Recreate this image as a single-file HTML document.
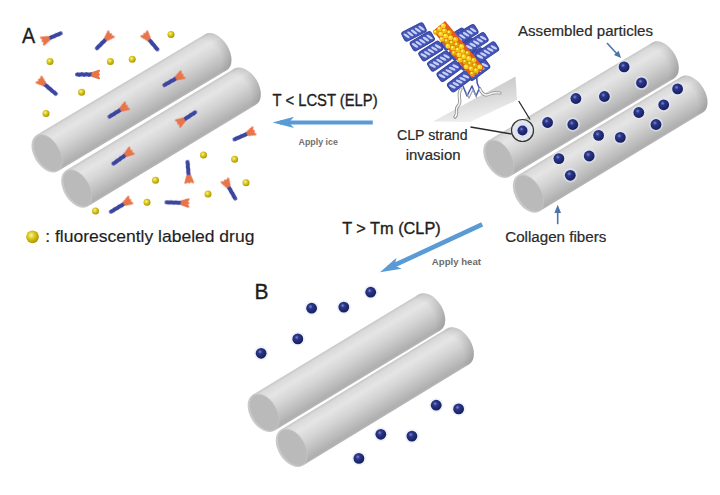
<!DOCTYPE html>
<html><head><meta charset="utf-8"><style>html,body{margin:0;padding:0;background:#fff;overflow:hidden}svg{display:block}</style></head>
<body><svg width="720" height="495" viewBox="0 0 720 495"><defs>
<linearGradient id="tb" x1="0" y1="0" x2="0" y2="1">
 <stop offset="0" stop-color="#c6c6c6"/>
 <stop offset="0.07" stop-color="#dadada"/>
 <stop offset="0.25" stop-color="#e5e5e5"/>
 <stop offset="0.5" stop-color="#d5d5d5"/>
 <stop offset="0.8" stop-color="#bcbcbc"/>
 <stop offset="0.94" stop-color="#afafaf"/>
 <stop offset="1" stop-color="#b6b6b6"/>
</linearGradient>
<filter id="soft2" x="-30%" y="-30%" width="160%" height="160%"><feGaussianBlur stdDeviation="0.55"/></filter>
<radialGradient id="tend" cx="0.2" cy="0.5" r="0.8">
 <stop offset="0.5" stop-color="#000" stop-opacity="0"/>
 <stop offset="1" stop-color="#000" stop-opacity="0.12"/>
</radialGradient>
<radialGradient id="pt" cx="0.4" cy="0.36" r="0.66">
 <stop offset="0" stop-color="#7c88d0"/>
 <stop offset="0.3" stop-color="#2b3788"/>
 <stop offset="1" stop-color="#161d5c"/>
</radialGradient>
<radialGradient id="yb" cx="0.4" cy="0.38" r="0.65">
 <stop offset="0" stop-color="#fbf3a0"/>
 <stop offset="0.45" stop-color="#d9c61a"/>
 <stop offset="1" stop-color="#a89400"/>
</radialGradient>
<marker id="ah" viewBox="0 0 10 10" refX="2" refY="5" markerWidth="5" markerHeight="4" orient="auto-start-reverse"><path d="M0,0 L10,5 L0,10 L3,5 Z" fill="#5b9bd5"/></marker><linearGradient id="surf" x1="0" y1="0" x2="0.35" y2="1"><stop offset="0" stop-color="#bdbdbd"/><stop offset="0.6" stop-color="#d8d8d8"/><stop offset="1" stop-color="#efefef"/></linearGradient><clipPath id="hxclip"><path d="M401,33 L416,24 L474,23 L499,44 L493,60 L484,76 L470,92 L462,96 Z"/></clipPath><filter id="soft" x="-5%" y="-5%" width="110%" height="110%"><feGaussianBlur stdDeviation="0.45"/></filter></defs><rect width="720" height="495" fill="#fff"/><g transform="translate(47.00,153.30) rotate(-30.89)"><rect x="0" y="-21" width="196.93" height="42" fill="url(#tb)"/><ellipse cx="196.93" cy="0" rx="13" ry="21" fill="url(#tb)"/><ellipse cx="196.93" cy="0" rx="13" ry="21" fill="url(#tend)"/><ellipse cx="0" cy="0" rx="13" ry="21" fill="#c9c9c9"/><ellipse cx="0.8" cy="0.3" rx="11.5" ry="19.8" fill="#bababa"/></g><g transform="translate(76.70,188.50) rotate(-31.15)"><rect x="0" y="-21" width="197.00" height="42" fill="url(#tb)"/><ellipse cx="197.00" cy="0" rx="13" ry="21" fill="url(#tb)"/><ellipse cx="197.00" cy="0" rx="13" ry="21" fill="url(#tend)"/><ellipse cx="0" cy="0" rx="13" ry="21" fill="#c9c9c9"/><ellipse cx="0.8" cy="0.3" rx="11.5" ry="19.8" fill="#bababa"/></g><g transform="translate(498.70,158.70) rotate(-30.82)"><rect x="0" y="-21" width="191.67" height="42" fill="url(#tb)"/><ellipse cx="191.67" cy="0" rx="13" ry="21" fill="url(#tb)"/><ellipse cx="191.67" cy="0" rx="13" ry="21" fill="url(#tend)"/><ellipse cx="0" cy="0" rx="13" ry="21" fill="#c9c9c9"/><ellipse cx="0.8" cy="0.3" rx="11.5" ry="19.8" fill="#bababa"/></g><g transform="translate(528.35,193.55) rotate(-31.15)"><rect x="0" y="-21" width="191.21" height="42" fill="url(#tb)"/><ellipse cx="191.21" cy="0" rx="13" ry="21" fill="url(#tb)"/><ellipse cx="191.21" cy="0" rx="13" ry="21" fill="url(#tend)"/><ellipse cx="0" cy="0" rx="13" ry="21" fill="#c9c9c9"/><ellipse cx="0.8" cy="0.3" rx="11.5" ry="19.8" fill="#bababa"/></g><g transform="translate(263.50,412.70) rotate(-31.13)"><rect x="0" y="-21" width="193.81" height="42" fill="url(#tb)"/><ellipse cx="193.81" cy="0" rx="13.5" ry="21" fill="url(#tb)"/><ellipse cx="193.81" cy="0" rx="13.5" ry="21" fill="url(#tend)"/><ellipse cx="0" cy="0" rx="13.5" ry="21" fill="#c9c9c9"/><ellipse cx="0.8" cy="0.3" rx="12.0" ry="19.8" fill="#bababa"/></g><g transform="translate(291.65,447.70) rotate(-31.31)"><rect x="0" y="-21" width="194.71" height="42" fill="url(#tb)"/><ellipse cx="194.71" cy="0" rx="13.5" ry="21" fill="url(#tb)"/><ellipse cx="194.71" cy="0" rx="13.5" ry="21" fill="url(#tend)"/><ellipse cx="0" cy="0" rx="13.5" ry="21" fill="#c9c9c9"/><ellipse cx="0.8" cy="0.3" rx="12.0" ry="19.8" fill="#bababa"/></g><g transform="translate(44.2,40.4) rotate(-23.2)" filter="url(#soft2)"><line x1="3.5" y1="0" x2="18.06" y2="0" stroke="#4650a6" stroke-width="3.8" stroke-linecap="round"/><polyline points="3.50,-1.20 5.93,1.20 8.35,-1.20 10.78,1.20 13.21,-1.20 15.64,1.20 18.06,-1.20" fill="none" stroke="#3a449c" stroke-width="2.2" stroke-linejoin="round"/><path d="M-1.8,-3.8 L-0.2,-1 L-1.8,0 L-0.2,1 L-1.8,3.8 L4.8,1.5 L4.8,-1.5 Z" fill="#e8754a" stroke="#e8754a" stroke-width="2" stroke-linejoin="round"/></g><g transform="translate(109.8,35.4) rotate(135.0)" filter="url(#soft2)"><line x1="3.5" y1="0" x2="18.32" y2="0" stroke="#4650a6" stroke-width="3.8" stroke-linecap="round"/><polyline points="3.50,-1.20 5.97,1.20 8.44,-1.20 10.91,1.20 13.38,-1.20 15.85,1.20 18.32,-1.20" fill="none" stroke="#3a449c" stroke-width="2.2" stroke-linejoin="round"/><path d="M-1.8,-3.8 L-0.2,-1 L-1.8,0 L-0.2,1 L-1.8,3.8 L4.8,1.5 L4.8,-1.5 Z" fill="#e8754a" stroke="#e8754a" stroke-width="2" stroke-linejoin="round"/></g><g transform="translate(145.4,35.2) rotate(49.9)" filter="url(#soft2)"><line x1="3.5" y1="0" x2="18.67" y2="0" stroke="#4650a6" stroke-width="3.8" stroke-linecap="round"/><polyline points="3.50,-1.20 6.03,1.20 8.56,-1.20 11.09,1.20 13.61,-1.20 16.14,1.20 18.67,-1.20" fill="none" stroke="#3a449c" stroke-width="2.2" stroke-linejoin="round"/><path d="M-1.8,-3.8 L-0.2,-1 L-1.8,0 L-0.2,1 L-1.8,3.8 L4.8,1.5 L4.8,-1.5 Z" fill="#e8754a" stroke="#e8754a" stroke-width="2" stroke-linejoin="round"/></g><g transform="translate(97.2,74.5) rotate(180.0)" filter="url(#soft2)"><line x1="3.5" y1="0" x2="20.20" y2="0" stroke="#4650a6" stroke-width="3.8" stroke-linecap="round"/><polyline points="3.50,-1.20 5.89,1.20 8.27,-1.20 10.66,1.20 13.04,-1.20 15.43,1.20 17.81,-1.20 20.20,1.20" fill="none" stroke="#3a449c" stroke-width="2.2" stroke-linejoin="round"/><path d="M-1.8,-3.8 L-0.2,-1 L-1.8,0 L-0.2,1 L-1.8,3.8 L4.8,1.5 L4.8,-1.5 Z" fill="#e8754a" stroke="#e8754a" stroke-width="2" stroke-linejoin="round"/></g><g transform="translate(40.4,80.8) rotate(40.3)" filter="url(#soft2)"><line x1="3.5" y1="0" x2="20.30" y2="0" stroke="#4650a6" stroke-width="3.8" stroke-linecap="round"/><polyline points="3.50,-1.20 5.90,1.20 8.30,-1.20 10.70,1.20 13.10,-1.20 15.50,1.20 17.90,-1.20 20.30,1.20" fill="none" stroke="#3a449c" stroke-width="2.2" stroke-linejoin="round"/><path d="M-1.8,-3.8 L-0.2,-1 L-1.8,0 L-0.2,1 L-1.8,3.8 L4.8,1.5 L4.8,-1.5 Z" fill="#e8754a" stroke="#e8754a" stroke-width="2" stroke-linejoin="round"/></g><g transform="translate(125.4,106.8) rotate(148.1)" filter="url(#soft2)"><line x1="3.5" y1="0" x2="18.83" y2="0" stroke="#4650a6" stroke-width="3.8" stroke-linecap="round"/><polyline points="3.50,-1.20 6.06,1.20 8.61,-1.20 11.17,1.20 13.72,-1.20 16.28,1.20 18.83,-1.20" fill="none" stroke="#3a449c" stroke-width="2.2" stroke-linejoin="round"/><path d="M-1.8,-3.8 L-0.2,-1 L-1.8,0 L-0.2,1 L-1.8,3.8 L4.8,1.5 L4.8,-1.5 Z" fill="#e8754a" stroke="#e8754a" stroke-width="2" stroke-linejoin="round"/></g><g transform="translate(181.0,75.6) rotate(150.2)" filter="url(#soft2)"><line x1="3.5" y1="0" x2="19.32" y2="0" stroke="#4650a6" stroke-width="3.8" stroke-linecap="round"/><polyline points="3.50,-1.20 6.14,1.20 8.77,-1.20 11.41,1.20 14.04,-1.20 16.68,1.20 19.32,-1.20" fill="none" stroke="#3a449c" stroke-width="2.2" stroke-linejoin="round"/><path d="M-1.8,-3.8 L-0.2,-1 L-1.8,0 L-0.2,1 L-1.8,3.8 L4.8,1.5 L4.8,-1.5 Z" fill="#e8754a" stroke="#e8754a" stroke-width="2" stroke-linejoin="round"/></g><g transform="translate(130.0,151.8) rotate(144.4)" filter="url(#soft2)"><line x1="3.5" y1="0" x2="20.45" y2="0" stroke="#4650a6" stroke-width="3.8" stroke-linecap="round"/><polyline points="3.50,-1.20 5.92,1.20 8.34,-1.20 10.76,1.20 13.18,-1.20 15.60,1.20 18.02,-1.20 20.45,1.20" fill="none" stroke="#3a449c" stroke-width="2.2" stroke-linejoin="round"/><path d="M-1.8,-3.8 L-0.2,-1 L-1.8,0 L-0.2,1 L-1.8,3.8 L4.8,1.5 L4.8,-1.5 Z" fill="#e8754a" stroke="#e8754a" stroke-width="2" stroke-linejoin="round"/></g><g transform="translate(179.6,122.6) rotate(-33.5)" filter="url(#soft2)"><line x1="3.5" y1="0" x2="18.71" y2="0" stroke="#4650a6" stroke-width="3.8" stroke-linecap="round"/><polyline points="3.50,-1.20 6.04,1.20 8.57,-1.20 11.11,1.20 13.64,-1.20 16.18,1.20 18.71,-1.20" fill="none" stroke="#3a449c" stroke-width="2.2" stroke-linejoin="round"/><path d="M-1.8,-3.8 L-0.2,-1 L-1.8,0 L-0.2,1 L-1.8,3.8 L4.8,1.5 L4.8,-1.5 Z" fill="#e8754a" stroke="#e8754a" stroke-width="2" stroke-linejoin="round"/></g><g transform="translate(252.3,131.6) rotate(156.4)" filter="url(#soft2)"><line x1="3.5" y1="0" x2="19.53" y2="0" stroke="#4650a6" stroke-width="3.8" stroke-linecap="round"/><polyline points="3.50,-1.20 6.17,1.20 8.84,-1.20 11.52,1.20 14.19,-1.20 16.86,1.20 19.53,-1.20" fill="none" stroke="#3a449c" stroke-width="2.2" stroke-linejoin="round"/><path d="M-1.8,-3.8 L-0.2,-1 L-1.8,0 L-0.2,1 L-1.8,3.8 L4.8,1.5 L4.8,-1.5 Z" fill="#e8754a" stroke="#e8754a" stroke-width="2" stroke-linejoin="round"/></g><g transform="translate(189.1,180.8) rotate(-94.8)" filter="url(#soft2)"><line x1="3.5" y1="0" x2="19.07" y2="0" stroke="#4650a6" stroke-width="3.8" stroke-linecap="round"/><polyline points="3.50,-1.20 6.10,1.20 8.69,-1.20 11.29,1.20 13.88,-1.20 16.48,1.20 19.07,-1.20" fill="none" stroke="#3a449c" stroke-width="2.2" stroke-linejoin="round"/><path d="M-1.8,-3.8 L-0.2,-1 L-1.8,0 L-0.2,1 L-1.8,3.8 L4.8,1.5 L4.8,-1.5 Z" fill="#e8754a" stroke="#e8754a" stroke-width="2" stroke-linejoin="round"/></g><g transform="translate(225.8,182.0) rotate(60.3)" filter="url(#soft2)"><line x1="3.5" y1="0" x2="19.18" y2="0" stroke="#4650a6" stroke-width="3.8" stroke-linecap="round"/><polyline points="3.50,-1.20 6.11,1.20 8.73,-1.20 11.34,1.20 13.95,-1.20 16.57,1.20 19.18,-1.20" fill="none" stroke="#3a449c" stroke-width="2.2" stroke-linejoin="round"/><path d="M-1.8,-3.8 L-0.2,-1 L-1.8,0 L-0.2,1 L-1.8,3.8 L4.8,1.5 L4.8,-1.5 Z" fill="#e8754a" stroke="#e8754a" stroke-width="2" stroke-linejoin="round"/></g><g transform="translate(128.8,201.0) rotate(149.0)" filter="url(#soft2)"><line x1="3.5" y1="0" x2="20.96" y2="0" stroke="#4650a6" stroke-width="3.8" stroke-linecap="round"/><polyline points="3.50,-1.20 5.99,1.20 8.49,-1.20 10.98,1.20 13.48,-1.20 15.97,1.20 18.46,-1.20 20.96,1.20" fill="none" stroke="#3a449c" stroke-width="2.2" stroke-linejoin="round"/><path d="M-1.8,-3.8 L-0.2,-1 L-1.8,0 L-0.2,1 L-1.8,3.8 L4.8,1.5 L4.8,-1.5 Z" fill="#e8754a" stroke="#e8754a" stroke-width="2" stroke-linejoin="round"/></g><g transform="translate(186.6,203.0) rotate(-178.1)" filter="url(#soft2)"><line x1="3.5" y1="0" x2="20.21" y2="0" stroke="#4650a6" stroke-width="3.8" stroke-linecap="round"/><polyline points="3.50,-1.20 5.89,1.20 8.27,-1.20 10.66,1.20 13.05,-1.20 15.44,1.20 17.82,-1.20 20.21,1.20" fill="none" stroke="#3a449c" stroke-width="2.2" stroke-linejoin="round"/><path d="M-1.8,-3.8 L-0.2,-1 L-1.8,0 L-0.2,1 L-1.8,3.8 L4.8,1.5 L4.8,-1.5 Z" fill="#e8754a" stroke="#e8754a" stroke-width="2" stroke-linejoin="round"/></g><circle cx="171" cy="34.4" r="3.5" fill="url(#yb)"/><circle cx="50" cy="61.4" r="3.5" fill="url(#yb)"/><circle cx="110.4" cy="61.4" r="3.5" fill="url(#yb)"/><circle cx="132.2" cy="59.3" r="3.5" fill="url(#yb)"/><circle cx="81.6" cy="92.2" r="3.5" fill="url(#yb)"/><circle cx="46" cy="113.4" r="3.5" fill="url(#yb)"/><circle cx="155.5" cy="180.3" r="3.5" fill="url(#yb)"/><circle cx="147" cy="202.3" r="3.5" fill="url(#yb)"/><circle cx="95.5" cy="211" r="3.5" fill="url(#yb)"/><circle cx="203.5" cy="155" r="3.5" fill="url(#yb)"/><circle cx="234.6" cy="159.3" r="3.5" fill="url(#yb)"/><circle cx="246" cy="182.8" r="3.5" fill="url(#yb)"/><circle cx="208" cy="194" r="3.5" fill="url(#yb)"/><circle cx="624.1" cy="66.9" r="7.2" fill="#e6eaf8" opacity="0.55"/><circle cx="624.1" cy="66.9" r="5.4" fill="url(#pt)"/><circle cx="641.5" cy="82.8" r="7.2" fill="#e6eaf8" opacity="0.55"/><circle cx="641.5" cy="82.8" r="5.4" fill="url(#pt)"/><circle cx="677.6" cy="88.9" r="7.2" fill="#e6eaf8" opacity="0.55"/><circle cx="677.6" cy="88.9" r="5.4" fill="url(#pt)"/><circle cx="575.9" cy="98.5" r="7.2" fill="#e6eaf8" opacity="0.55"/><circle cx="575.9" cy="98.5" r="5.4" fill="url(#pt)"/><circle cx="604.4" cy="96.5" r="7.2" fill="#e6eaf8" opacity="0.55"/><circle cx="604.4" cy="96.5" r="5.4" fill="url(#pt)"/><circle cx="663.7" cy="104.8" r="7.2" fill="#e6eaf8" opacity="0.55"/><circle cx="663.7" cy="104.8" r="5.4" fill="url(#pt)"/><circle cx="638.8" cy="112.5" r="7.2" fill="#e6eaf8" opacity="0.55"/><circle cx="638.8" cy="112.5" r="5.4" fill="url(#pt)"/><circle cx="547.6" cy="122.5" r="7.2" fill="#e6eaf8" opacity="0.55"/><circle cx="547.6" cy="122.5" r="5.4" fill="url(#pt)"/><circle cx="572.8" cy="124.5" r="7.2" fill="#e6eaf8" opacity="0.55"/><circle cx="572.8" cy="124.5" r="5.4" fill="url(#pt)"/><circle cx="656" cy="124.5" r="7.2" fill="#e6eaf8" opacity="0.55"/><circle cx="656" cy="124.5" r="5.4" fill="url(#pt)"/><circle cx="598.6" cy="135.4" r="7.2" fill="#e6eaf8" opacity="0.55"/><circle cx="598.6" cy="135.4" r="5.4" fill="url(#pt)"/><circle cx="620.3" cy="137.4" r="7.2" fill="#e6eaf8" opacity="0.55"/><circle cx="620.3" cy="137.4" r="5.4" fill="url(#pt)"/><circle cx="558.9" cy="158.6" r="7.2" fill="#e6eaf8" opacity="0.55"/><circle cx="558.9" cy="158.6" r="5.4" fill="url(#pt)"/><circle cx="589.2" cy="156" r="7.2" fill="#e6eaf8" opacity="0.55"/><circle cx="589.2" cy="156" r="5.4" fill="url(#pt)"/><circle cx="570.3" cy="175.3" r="7.2" fill="#e6eaf8" opacity="0.55"/><circle cx="570.3" cy="175.3" r="5.4" fill="url(#pt)"/><circle cx="370.7" cy="292.2" r="7.2" fill="#e6eaf8" opacity="0.55"/><circle cx="370.7" cy="292.2" r="5.4" fill="url(#pt)"/><circle cx="311.6" cy="308.2" r="7.2" fill="#e6eaf8" opacity="0.55"/><circle cx="311.6" cy="308.2" r="5.4" fill="url(#pt)"/><circle cx="343.8" cy="307.1" r="7.2" fill="#e6eaf8" opacity="0.55"/><circle cx="343.8" cy="307.1" r="5.4" fill="url(#pt)"/><circle cx="297.8" cy="338.9" r="7.2" fill="#e6eaf8" opacity="0.55"/><circle cx="297.8" cy="338.9" r="5.4" fill="url(#pt)"/><circle cx="261.1" cy="353.3" r="7.2" fill="#e6eaf8" opacity="0.55"/><circle cx="261.1" cy="353.3" r="5.4" fill="url(#pt)"/><circle cx="436.2" cy="405.2" r="7.2" fill="#e6eaf8" opacity="0.55"/><circle cx="436.2" cy="405.2" r="5.4" fill="url(#pt)"/><circle cx="458.6" cy="408.9" r="7.2" fill="#e6eaf8" opacity="0.55"/><circle cx="458.6" cy="408.9" r="5.4" fill="url(#pt)"/><circle cx="380.8" cy="434.3" r="7.2" fill="#e6eaf8" opacity="0.55"/><circle cx="380.8" cy="434.3" r="5.4" fill="url(#pt)"/><circle cx="411.9" cy="436.1" r="7.2" fill="#e6eaf8" opacity="0.55"/><circle cx="411.9" cy="436.1" r="5.4" fill="url(#pt)"/><circle cx="358.9" cy="458.4" r="7.2" fill="#e6eaf8" opacity="0.55"/><circle cx="358.9" cy="458.4" r="5.4" fill="url(#pt)"/><circle cx="522.5" cy="130.5" r="11" fill="#e4e6ee" stroke="#333" stroke-width="1.2"/><circle cx="522.5" cy="130.5" r="7.2" fill="#d6dbf0"/><circle cx="522.5" cy="130.5" r="6.8" fill="#e6eaf8" opacity="0.55"/><circle cx="522.5" cy="130.5" r="5" fill="url(#pt)"/><line x1="470.5" y1="127" x2="511.5" y2="134" stroke="#2a2a2a" stroke-width="1.3"/><line x1="518.7" y1="101" x2="530" y2="119.5" stroke="#2a2a2a" stroke-width="1.3"/><line x1="372.8" y1="122.4" x2="280" y2="122.4" stroke="#5b9bd5" stroke-width="4"/><path d="M272.6,122.4 L294,116.8 L289,122.4 L294,128 Z" fill="#5b9bd5"/><line x1="482.2" y1="224.4" x2="388" y2="268.2" stroke="#5b9bd5" stroke-width="4.6"/><g transform="translate(380,272.2) rotate(154.9)"><path d="M0,0 L-21,-6 L-16,0 L-21,6 Z" fill="#5b9bd5"/></g><line x1="607" y1="43" x2="618" y2="55" stroke="#4a74aa" stroke-width="1.6"/><g transform="translate(621,58) rotate(48)"><path d="M0,0 L-7,-3.2 L-7,3.2 Z" fill="#4a74aa"/></g><line x1="557.7" y1="224.2" x2="557.7" y2="211" stroke="#4a74aa" stroke-width="1.6"/><path d="M557.7,204.7 L554.4,213 L561,213 Z" fill="#4a74aa"/><g filter="url(#soft)"><path d="M433,121.5 L515.5,76.5 L517,100 L470,122 Z" fill="url(#surf)"/><g><g transform="translate(453.0,40.0) rotate(-33)"><rect x="-12" y="-5.2" width="24" height="10.4" rx="2.6" fill="#4557b8" stroke="#34429e" stroke-width="1"/><ellipse cx="-8.4" cy="0" rx="3.6" ry="1.25" transform="rotate(62 -8.4 0)" fill="#c8d0f6"/><ellipse cx="-4.2" cy="0" rx="3.6" ry="1.25" transform="rotate(62 -4.2 0)" fill="#c8d0f6"/><ellipse cx="0.0" cy="0" rx="3.6" ry="1.25" transform="rotate(62 0.0 0)" fill="#c8d0f6"/><ellipse cx="4.200000000000001" cy="0" rx="3.6" ry="1.25" transform="rotate(62 4.200000000000001 0)" fill="#c8d0f6"/><ellipse cx="8.4" cy="0" rx="3.6" ry="1.25" transform="rotate(62 8.4 0)" fill="#c8d0f6"/></g><g transform="translate(461.5,50.0) rotate(-34)"><rect x="-12" y="-5.2" width="24" height="10.4" rx="2.6" fill="#4557b8" stroke="#34429e" stroke-width="1"/><ellipse cx="-8.4" cy="0" rx="3.6" ry="1.25" transform="rotate(62 -8.4 0)" fill="#c8d0f6"/><ellipse cx="-4.2" cy="0" rx="3.6" ry="1.25" transform="rotate(62 -4.2 0)" fill="#c8d0f6"/><ellipse cx="0.0" cy="0" rx="3.6" ry="1.25" transform="rotate(62 0.0 0)" fill="#c8d0f6"/><ellipse cx="4.200000000000001" cy="0" rx="3.6" ry="1.25" transform="rotate(62 4.200000000000001 0)" fill="#c8d0f6"/><ellipse cx="8.4" cy="0" rx="3.6" ry="1.25" transform="rotate(62 8.4 0)" fill="#c8d0f6"/></g><g transform="translate(470.0,60.0) rotate(-35)"><rect x="-12" y="-5.2" width="24" height="10.4" rx="2.6" fill="#4557b8" stroke="#34429e" stroke-width="1"/><ellipse cx="-8.4" cy="0" rx="3.6" ry="1.25" transform="rotate(62 -8.4 0)" fill="#c8d0f6"/><ellipse cx="-4.2" cy="0" rx="3.6" ry="1.25" transform="rotate(62 -4.2 0)" fill="#c8d0f6"/><ellipse cx="0.0" cy="0" rx="3.6" ry="1.25" transform="rotate(62 0.0 0)" fill="#c8d0f6"/><ellipse cx="4.200000000000001" cy="0" rx="3.6" ry="1.25" transform="rotate(62 4.200000000000001 0)" fill="#c8d0f6"/><ellipse cx="8.4" cy="0" rx="3.6" ry="1.25" transform="rotate(62 8.4 0)" fill="#c8d0f6"/></g><g transform="translate(478.0,70.0) rotate(-36)"><rect x="-12" y="-5.2" width="24" height="10.4" rx="2.6" fill="#4557b8" stroke="#34429e" stroke-width="1"/><ellipse cx="-8.4" cy="0" rx="3.6" ry="1.25" transform="rotate(62 -8.4 0)" fill="#c8d0f6"/><ellipse cx="-4.2" cy="0" rx="3.6" ry="1.25" transform="rotate(62 -4.2 0)" fill="#c8d0f6"/><ellipse cx="0.0" cy="0" rx="3.6" ry="1.25" transform="rotate(62 0.0 0)" fill="#c8d0f6"/><ellipse cx="4.200000000000001" cy="0" rx="3.6" ry="1.25" transform="rotate(62 4.200000000000001 0)" fill="#c8d0f6"/><ellipse cx="8.4" cy="0" rx="3.6" ry="1.25" transform="rotate(62 8.4 0)" fill="#c8d0f6"/></g><g transform="translate(455.0,38.0) rotate(-32)"><rect x="-12" y="-5.2" width="24" height="10.4" rx="2.6" fill="#4557b8" stroke="#34429e" stroke-width="1"/><ellipse cx="-8.4" cy="0" rx="3.6" ry="1.25" transform="rotate(62 -8.4 0)" fill="#c8d0f6"/><ellipse cx="-4.2" cy="0" rx="3.6" ry="1.25" transform="rotate(62 -4.2 0)" fill="#c8d0f6"/><ellipse cx="0.0" cy="0" rx="3.6" ry="1.25" transform="rotate(62 0.0 0)" fill="#c8d0f6"/><ellipse cx="4.200000000000001" cy="0" rx="3.6" ry="1.25" transform="rotate(62 4.200000000000001 0)" fill="#c8d0f6"/><ellipse cx="8.4" cy="0" rx="3.6" ry="1.25" transform="rotate(62 8.4 0)" fill="#c8d0f6"/></g><g transform="translate(465.0,48.0) rotate(-33)"><rect x="-12" y="-5.2" width="24" height="10.4" rx="2.6" fill="#4557b8" stroke="#34429e" stroke-width="1"/><ellipse cx="-8.4" cy="0" rx="3.6" ry="1.25" transform="rotate(62 -8.4 0)" fill="#c8d0f6"/><ellipse cx="-4.2" cy="0" rx="3.6" ry="1.25" transform="rotate(62 -4.2 0)" fill="#c8d0f6"/><ellipse cx="0.0" cy="0" rx="3.6" ry="1.25" transform="rotate(62 0.0 0)" fill="#c8d0f6"/><ellipse cx="4.200000000000001" cy="0" rx="3.6" ry="1.25" transform="rotate(62 4.200000000000001 0)" fill="#c8d0f6"/><ellipse cx="8.4" cy="0" rx="3.6" ry="1.25" transform="rotate(62 8.4 0)" fill="#c8d0f6"/></g><g transform="translate(474.0,58.0) rotate(-34)"><rect x="-12" y="-5.2" width="24" height="10.4" rx="2.6" fill="#4557b8" stroke="#34429e" stroke-width="1"/><ellipse cx="-8.4" cy="0" rx="3.6" ry="1.25" transform="rotate(62 -8.4 0)" fill="#c8d0f6"/><ellipse cx="-4.2" cy="0" rx="3.6" ry="1.25" transform="rotate(62 -4.2 0)" fill="#c8d0f6"/><ellipse cx="0.0" cy="0" rx="3.6" ry="1.25" transform="rotate(62 0.0 0)" fill="#c8d0f6"/><ellipse cx="4.200000000000001" cy="0" rx="3.6" ry="1.25" transform="rotate(62 4.200000000000001 0)" fill="#c8d0f6"/><ellipse cx="8.4" cy="0" rx="3.6" ry="1.25" transform="rotate(62 8.4 0)" fill="#c8d0f6"/></g><g transform="translate(414.0,32.0) rotate(-27)"><rect x="-12" y="-5.2" width="24" height="10.4" rx="2.6" fill="#4557b8" stroke="#34429e" stroke-width="1"/><ellipse cx="-8.4" cy="0" rx="3.6" ry="1.25" transform="rotate(62 -8.4 0)" fill="#c8d0f6"/><ellipse cx="-4.2" cy="0" rx="3.6" ry="1.25" transform="rotate(62 -4.2 0)" fill="#c8d0f6"/><ellipse cx="0.0" cy="0" rx="3.6" ry="1.25" transform="rotate(62 0.0 0)" fill="#c8d0f6"/><ellipse cx="4.200000000000001" cy="0" rx="3.6" ry="1.25" transform="rotate(62 4.200000000000001 0)" fill="#c8d0f6"/><ellipse cx="8.4" cy="0" rx="3.6" ry="1.25" transform="rotate(62 8.4 0)" fill="#c8d0f6"/></g><g transform="translate(422.3,41.2) rotate(-30)"><rect x="-12" y="-5.2" width="24" height="10.4" rx="2.6" fill="#4557b8" stroke="#34429e" stroke-width="1"/><ellipse cx="-8.4" cy="0" rx="3.6" ry="1.25" transform="rotate(62 -8.4 0)" fill="#c8d0f6"/><ellipse cx="-4.2" cy="0" rx="3.6" ry="1.25" transform="rotate(62 -4.2 0)" fill="#c8d0f6"/><ellipse cx="0.0" cy="0" rx="3.6" ry="1.25" transform="rotate(62 0.0 0)" fill="#c8d0f6"/><ellipse cx="4.200000000000001" cy="0" rx="3.6" ry="1.25" transform="rotate(62 4.200000000000001 0)" fill="#c8d0f6"/><ellipse cx="8.4" cy="0" rx="3.6" ry="1.25" transform="rotate(62 8.4 0)" fill="#c8d0f6"/></g><g transform="translate(430.8,51.0) rotate(-32)"><rect x="-12" y="-5.2" width="24" height="10.4" rx="2.6" fill="#4557b8" stroke="#34429e" stroke-width="1"/><ellipse cx="-8.4" cy="0" rx="3.6" ry="1.25" transform="rotate(62 -8.4 0)" fill="#c8d0f6"/><ellipse cx="-4.2" cy="0" rx="3.6" ry="1.25" transform="rotate(62 -4.2 0)" fill="#c8d0f6"/><ellipse cx="0.0" cy="0" rx="3.6" ry="1.25" transform="rotate(62 0.0 0)" fill="#c8d0f6"/><ellipse cx="4.200000000000001" cy="0" rx="3.6" ry="1.25" transform="rotate(62 4.200000000000001 0)" fill="#c8d0f6"/><ellipse cx="8.4" cy="0" rx="3.6" ry="1.25" transform="rotate(62 8.4 0)" fill="#c8d0f6"/></g><g transform="translate(439.5,61.0) rotate(-34)"><rect x="-12" y="-5.2" width="24" height="10.4" rx="2.6" fill="#4557b8" stroke="#34429e" stroke-width="1"/><ellipse cx="-8.4" cy="0" rx="3.6" ry="1.25" transform="rotate(62 -8.4 0)" fill="#c8d0f6"/><ellipse cx="-4.2" cy="0" rx="3.6" ry="1.25" transform="rotate(62 -4.2 0)" fill="#c8d0f6"/><ellipse cx="0.0" cy="0" rx="3.6" ry="1.25" transform="rotate(62 0.0 0)" fill="#c8d0f6"/><ellipse cx="4.200000000000001" cy="0" rx="3.6" ry="1.25" transform="rotate(62 4.200000000000001 0)" fill="#c8d0f6"/><ellipse cx="8.4" cy="0" rx="3.6" ry="1.25" transform="rotate(62 8.4 0)" fill="#c8d0f6"/></g><g transform="translate(448.8,71.2) rotate(-36)"><rect x="-12" y="-5.2" width="24" height="10.4" rx="2.6" fill="#4557b8" stroke="#34429e" stroke-width="1"/><ellipse cx="-8.4" cy="0" rx="3.6" ry="1.25" transform="rotate(62 -8.4 0)" fill="#c8d0f6"/><ellipse cx="-4.2" cy="0" rx="3.6" ry="1.25" transform="rotate(62 -4.2 0)" fill="#c8d0f6"/><ellipse cx="0.0" cy="0" rx="3.6" ry="1.25" transform="rotate(62 0.0 0)" fill="#c8d0f6"/><ellipse cx="4.200000000000001" cy="0" rx="3.6" ry="1.25" transform="rotate(62 4.200000000000001 0)" fill="#c8d0f6"/><ellipse cx="8.4" cy="0" rx="3.6" ry="1.25" transform="rotate(62 8.4 0)" fill="#c8d0f6"/></g><g transform="translate(459.2,81.5) rotate(-37)"><rect x="-12" y="-5.2" width="24" height="10.4" rx="2.6" fill="#4557b8" stroke="#34429e" stroke-width="1"/><ellipse cx="-8.4" cy="0" rx="3.6" ry="1.25" transform="rotate(62 -8.4 0)" fill="#c8d0f6"/><ellipse cx="-4.2" cy="0" rx="3.6" ry="1.25" transform="rotate(62 -4.2 0)" fill="#c8d0f6"/><ellipse cx="0.0" cy="0" rx="3.6" ry="1.25" transform="rotate(62 0.0 0)" fill="#c8d0f6"/><ellipse cx="4.200000000000001" cy="0" rx="3.6" ry="1.25" transform="rotate(62 4.200000000000001 0)" fill="#c8d0f6"/><ellipse cx="8.4" cy="0" rx="3.6" ry="1.25" transform="rotate(62 8.4 0)" fill="#c8d0f6"/></g><g transform="translate(466.0,34.3) rotate(-31)"><rect x="-12" y="-5.2" width="24" height="10.4" rx="2.6" fill="#4557b8" stroke="#34429e" stroke-width="1"/><ellipse cx="-8.4" cy="0" rx="3.6" ry="1.25" transform="rotate(62 -8.4 0)" fill="#c8d0f6"/><ellipse cx="-4.2" cy="0" rx="3.6" ry="1.25" transform="rotate(62 -4.2 0)" fill="#c8d0f6"/><ellipse cx="0.0" cy="0" rx="3.6" ry="1.25" transform="rotate(62 0.0 0)" fill="#c8d0f6"/><ellipse cx="4.200000000000001" cy="0" rx="3.6" ry="1.25" transform="rotate(62 4.200000000000001 0)" fill="#c8d0f6"/><ellipse cx="8.4" cy="0" rx="3.6" ry="1.25" transform="rotate(62 8.4 0)" fill="#c8d0f6"/></g><g transform="translate(476.2,42.6) rotate(-33)"><rect x="-12" y="-5.2" width="24" height="10.4" rx="2.6" fill="#4557b8" stroke="#34429e" stroke-width="1"/><ellipse cx="-8.4" cy="0" rx="3.6" ry="1.25" transform="rotate(62 -8.4 0)" fill="#c8d0f6"/><ellipse cx="-4.2" cy="0" rx="3.6" ry="1.25" transform="rotate(62 -4.2 0)" fill="#c8d0f6"/><ellipse cx="0.0" cy="0" rx="3.6" ry="1.25" transform="rotate(62 0.0 0)" fill="#c8d0f6"/><ellipse cx="4.200000000000001" cy="0" rx="3.6" ry="1.25" transform="rotate(62 4.200000000000001 0)" fill="#c8d0f6"/><ellipse cx="8.4" cy="0" rx="3.6" ry="1.25" transform="rotate(62 8.4 0)" fill="#c8d0f6"/></g><g transform="translate(486.8,52.0) rotate(-34)"><rect x="-12" y="-5.2" width="24" height="10.4" rx="2.6" fill="#4557b8" stroke="#34429e" stroke-width="1"/><ellipse cx="-8.4" cy="0" rx="3.6" ry="1.25" transform="rotate(62 -8.4 0)" fill="#c8d0f6"/><ellipse cx="-4.2" cy="0" rx="3.6" ry="1.25" transform="rotate(62 -4.2 0)" fill="#c8d0f6"/><ellipse cx="0.0" cy="0" rx="3.6" ry="1.25" transform="rotate(62 0.0 0)" fill="#c8d0f6"/><ellipse cx="4.200000000000001" cy="0" rx="3.6" ry="1.25" transform="rotate(62 4.200000000000001 0)" fill="#c8d0f6"/><ellipse cx="8.4" cy="0" rx="3.6" ry="1.25" transform="rotate(62 8.4 0)" fill="#c8d0f6"/></g></g><path d="M439,26 L478,73" stroke="#e65c1a" stroke-width="16" stroke-linecap="butt"/><circle cx="435.7" cy="32.3" r="2.5" fill="#e0a800"/><circle cx="435.1" cy="31.6" r="1.1" fill="#fff27a"/><circle cx="439.5" cy="29.0" r="2.5" fill="#f0c40c"/><circle cx="438.9" cy="28.3" r="1.1" fill="#fff27a"/><circle cx="443.3" cy="25.7" r="2.5" fill="#f4d418"/><circle cx="442.7" cy="25.0" r="1.1" fill="#fff27a"/><circle cx="440.7" cy="34.1" r="2.5" fill="#f4d418"/><circle cx="440.1" cy="33.4" r="1.1" fill="#fff27a"/><circle cx="444.4" cy="30.8" r="2.5" fill="#f0c40c"/><circle cx="443.8" cy="30.1" r="1.1" fill="#fff27a"/><circle cx="441.8" cy="39.2" r="2.5" fill="#f0c40c"/><circle cx="441.2" cy="38.5" r="1.1" fill="#fff27a"/><circle cx="445.6" cy="35.9" r="2.5" fill="#f4d418"/><circle cx="445.0" cy="35.2" r="1.1" fill="#fff27a"/><circle cx="449.3" cy="32.6" r="2.5" fill="#e0a800"/><circle cx="448.7" cy="31.9" r="1.1" fill="#fff27a"/><circle cx="446.7" cy="41.0" r="2.5" fill="#e0a800"/><circle cx="446.1" cy="40.3" r="1.1" fill="#fff27a"/><circle cx="450.5" cy="37.7" r="2.5" fill="#f4d418"/><circle cx="449.9" cy="37.0" r="1.1" fill="#fff27a"/><circle cx="447.9" cy="46.1" r="2.5" fill="#f4d418"/><circle cx="447.3" cy="45.4" r="1.1" fill="#fff27a"/><circle cx="451.7" cy="42.8" r="2.5" fill="#e0a800"/><circle cx="451.1" cy="42.1" r="1.1" fill="#fff27a"/><circle cx="455.4" cy="39.5" r="2.5" fill="#f0c40c"/><circle cx="454.8" cy="38.8" r="1.1" fill="#fff27a"/><circle cx="452.8" cy="47.9" r="2.5" fill="#f0c40c"/><circle cx="452.2" cy="47.2" r="1.1" fill="#fff27a"/><circle cx="456.6" cy="44.6" r="2.5" fill="#e0a800"/><circle cx="456.0" cy="43.9" r="1.1" fill="#fff27a"/><circle cx="454.0" cy="53.0" r="2.5" fill="#e0a800"/><circle cx="453.4" cy="52.3" r="1.1" fill="#fff27a"/><circle cx="457.7" cy="49.7" r="2.5" fill="#f0c40c"/><circle cx="457.1" cy="49.0" r="1.1" fill="#fff27a"/><circle cx="461.5" cy="46.4" r="2.5" fill="#f4d418"/><circle cx="460.9" cy="45.7" r="1.1" fill="#fff27a"/><circle cx="458.9" cy="54.8" r="2.5" fill="#f4d418"/><circle cx="458.3" cy="54.1" r="1.1" fill="#fff27a"/><circle cx="462.7" cy="51.5" r="2.5" fill="#f0c40c"/><circle cx="462.1" cy="50.8" r="1.1" fill="#fff27a"/><circle cx="460.1" cy="59.9" r="2.5" fill="#f0c40c"/><circle cx="459.5" cy="59.2" r="1.1" fill="#fff27a"/><circle cx="463.8" cy="56.6" r="2.5" fill="#f4d418"/><circle cx="463.2" cy="55.9" r="1.1" fill="#fff27a"/><circle cx="467.6" cy="53.3" r="2.5" fill="#e0a800"/><circle cx="467.0" cy="52.6" r="1.1" fill="#fff27a"/><circle cx="465.0" cy="61.7" r="2.5" fill="#e0a800"/><circle cx="464.4" cy="61.0" r="1.1" fill="#fff27a"/><circle cx="468.7" cy="58.4" r="2.5" fill="#f4d418"/><circle cx="468.1" cy="57.7" r="1.1" fill="#fff27a"/><circle cx="466.2" cy="66.8" r="2.5" fill="#f4d418"/><circle cx="465.6" cy="66.1" r="1.1" fill="#fff27a"/><circle cx="469.9" cy="63.5" r="2.5" fill="#e0a800"/><circle cx="469.3" cy="62.8" r="1.1" fill="#fff27a"/><circle cx="473.7" cy="60.2" r="2.5" fill="#f0c40c"/><circle cx="473.1" cy="59.5" r="1.1" fill="#fff27a"/><circle cx="471.1" cy="68.6" r="2.5" fill="#f0c40c"/><circle cx="470.5" cy="67.9" r="1.1" fill="#fff27a"/><circle cx="474.8" cy="65.3" r="2.5" fill="#e0a800"/><circle cx="474.2" cy="64.6" r="1.1" fill="#fff27a"/><circle cx="472.2" cy="73.7" r="2.5" fill="#e0a800"/><circle cx="471.6" cy="73.0" r="1.1" fill="#fff27a"/><circle cx="476.0" cy="70.4" r="2.5" fill="#f0c40c"/><circle cx="475.4" cy="69.7" r="1.1" fill="#fff27a"/><circle cx="479.7" cy="67.1" r="2.5" fill="#f4d418"/><circle cx="479.1" cy="66.4" r="1.1" fill="#fff27a"/><path d="M461,89 C456,96 463,101 458,106 C454,110 459,113 455,117" fill="none" stroke="#8c8c8c" stroke-width="3.2" stroke-linecap="round"/><path d="M461,89 C456,96 463,101 458,106 C454,110 459,113 455,117" fill="none" stroke="#f6f6f6" stroke-width="1.6" stroke-linecap="round"/><path d="M463,86 L467,96 L472,86 L476,96 L480,87" fill="none" stroke="#4656b4" stroke-width="1.5" stroke-linejoin="round"/><path d="M466,92 L469,98 L473,90 L477,98" fill="none" stroke="#9aa0a8" stroke-width="1.2"/><path d="M477,76 C476,82 478,86 480,89" fill="none" stroke="#4656b4" stroke-width="1.6"/><path d="M480,89 C482,95 486,96 490,94 C494,92 497,93 500,93" fill="none" stroke="#8c8c8c" stroke-width="3" stroke-linecap="round"/><path d="M480,89 C482,95 486,96 490,94 C494,92 497,93 500,93" fill="none" stroke="#f6f6f6" stroke-width="1.4" stroke-linecap="round"/></g><text x="22" y="42.9" font-size="21.4" fill="#1e1e1e" stroke="#1e1e1e" stroke-width="0.35" font-family="'Liberation Sans', sans-serif" textLength="13.2" lengthAdjust="spacingAndGlyphs">A</text><text x="254.4" y="298.9" font-size="21.4" fill="#1e1e1e" stroke="#1e1e1e" stroke-width="0.35" font-family="'Liberation Sans', sans-serif" textLength="14" lengthAdjust="spacingAndGlyphs">B</text><text x="272.6" y="106.2" font-size="16" fill="#1e1e1e" stroke="#1e1e1e" stroke-width="0.35" font-family="'Liberation Sans', sans-serif" textLength="105" lengthAdjust="spacingAndGlyphs">T &lt; LCST (ELP)</text><text x="298.5" y="145" font-size="8.8" fill="#707070" stroke="#707070" stroke-width="0" font-family="'Liberation Sans', sans-serif" textLength="39.3" lengthAdjust="spacingAndGlyphs" font-weight="bold">Apply ice</text><text x="518" y="35.5" font-size="14" fill="#2a2a2a" stroke="#2a2a2a" stroke-width="0.2" font-family="'Liberation Sans', sans-serif" textLength="135" lengthAdjust="spacingAndGlyphs">Assembled particles</text><text x="397" y="140" font-size="14" fill="#2a2a2a" stroke="#2a2a2a" stroke-width="0.2" font-family="'Liberation Sans', sans-serif" textLength="70.5" lengthAdjust="spacingAndGlyphs">CLP strand</text><text x="405.75" y="160" font-size="14" fill="#2a2a2a" stroke="#2a2a2a" stroke-width="0.2" font-family="'Liberation Sans', sans-serif" textLength="54.75" lengthAdjust="spacingAndGlyphs">invasion</text><text x="342.2" y="234.4" font-size="16" fill="#1e1e1e" stroke="#1e1e1e" stroke-width="0.35" font-family="'Liberation Sans', sans-serif" textLength="98.5" lengthAdjust="spacingAndGlyphs">T &gt; Tm (CLP)</text><text x="431.8" y="265.2" font-size="9.6" fill="#6c6c6c" stroke="#6c6c6c" stroke-width="0" font-family="'Liberation Sans', sans-serif" textLength="49.2" lengthAdjust="spacingAndGlyphs" font-weight="bold">Apply heat</text><text x="505.2" y="242.2" font-size="14" fill="#2a2a2a" stroke="#2a2a2a" stroke-width="0.2" font-family="'Liberation Sans', sans-serif" textLength="101.1" lengthAdjust="spacingAndGlyphs">Collagen fibers</text><text x="45.2" y="242" font-size="17" fill="#1e1e1e" stroke="#1e1e1e" stroke-width="0.15" font-family="'Liberation Sans', sans-serif" textLength="209.2" lengthAdjust="spacingAndGlyphs">: fluorescently labeled drug</text><circle cx="32.5" cy="236.8" r="6.4" fill="url(#yb)"/></svg></body></html>
